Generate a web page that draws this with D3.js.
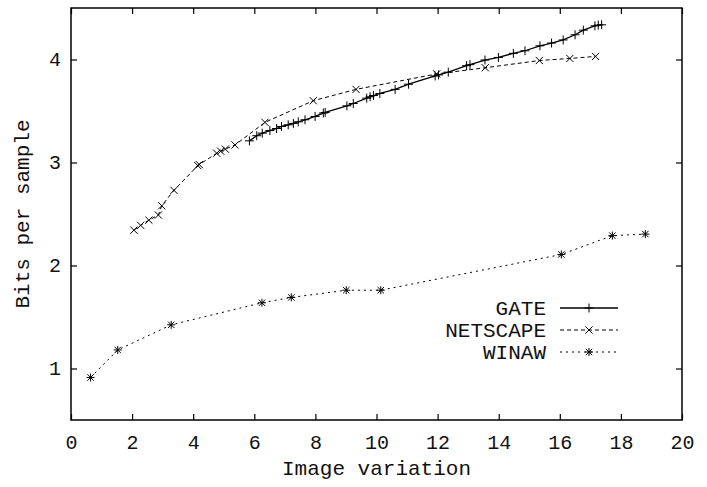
<!DOCTYPE html>
<html>
<head>
<meta charset="utf-8">
<script src="https://cdn.jsdelivr.net/npm/d3@7"></script>
<style>
  body { margin: 0; background: #fff; }
  svg { display: block; }
  text { font-family: "Liberation Mono", "DejaVu Sans Mono", monospace; fill: #111; }
</style>
</head>
<body>
<div id="chart"></div>
<script>
// Data
var gateX = [5.84, 6.08, 6.26, 6.51, 6.73, 6.89, 7.11, 7.28, 7.44, 7.66, 7.99, 8.26, 8.32,
    9.03, 9.24, 9.68, 9.79, 9.90, 10.11, 10.61, 11.05, 11.92, 12.03, 12.35, 12.95, 13.06,
    13.55, 13.99, 14.48, 14.86, 15.35, 15.73, 16.11, 16.50, 16.77, 17.15, 17.26, 17.37];
var gateY = [3.21, 3.26, 3.285, 3.31, 3.33, 3.35, 3.366, 3.38, 3.395, 3.415, 3.447, 3.48, 3.486,
    3.55, 3.573, 3.625, 3.638, 3.65, 3.67, 3.71, 3.76, 3.84, 3.85, 3.877, 3.94, 3.95,
    3.995, 4.02, 4.06, 4.085, 4.133, 4.16, 4.19, 4.24, 4.285, 4.327, 4.334, 4.337];

var netscapeX = [2.06, 2.28, 2.55, 2.86, 2.97, 3.37, 4.15, 4.20, 4.77, 4.90, 5.05, 5.37,
    6.35, 7.93, 9.33, 11.97, 13.56, 15.33, 16.33, 17.17];
var netscapeY = [2.343, 2.39, 2.44, 2.49, 2.58, 2.73, 2.97, 2.98, 3.09, 3.11, 3.13, 3.17,
    3.39, 3.60, 3.71, 3.86, 3.92, 3.99, 4.01, 4.03];

var winawX = [0.64, 1.53, 3.28, 6.25, 7.21, 9.01, 10.14, 16.05, 17.72, 18.80];
var winawY = [0.913, 1.18, 1.424, 1.638, 1.69, 1.76, 1.76, 2.107, 2.29, 2.305];

var xTicks = [0, 2, 4, 6, 8, 10, 12, 14, 16, 18, 20];
var yTicks = [1, 2, 3, 4];

var seriesNames = ["GATE", "NETSCAPE", "WINAW"];

// chart size
var margin = {top: 8, right: 25, bottom: 67, left: 71},
    width = 707 - margin.left - margin.right,
    height = 487 - margin.top - margin.bottom;

var svg = d3.select("#chart")
    .append("svg")
        .attr("width", 707)
        .attr("height", 487)
    .append("g")
        .attr("transform", "translate(" + margin.left + "," + margin.top + ")");

var xScale = d3.scaleLinear().domain([0, 20]).range([0, width]);
var yScale = d3.scaleLinear().domain([0.5, 4.5]).range([height, 0]);

// ticks pointing inward on all four sides
var tickLen = 6;
svg.append("g")
    .attr("transform", "translate(0," + height + ")")
    .call(d3.axisBottom(xScale).tickValues(xTicks).tickSize(-tickLen).tickPadding(15).tickFormat(d3.format("d")))
    .call(g => g.select(".domain").remove());
svg.append("g")
    .call(d3.axisTop(xScale).tickValues(xTicks).tickSize(-tickLen).tickFormat(""))
    .call(g => g.select(".domain").remove());
svg.append("g")
    .call(d3.axisLeft(yScale).tickValues(yTicks).tickSize(-tickLen).tickPadding(10).tickFormat(d3.format("d")))
    .call(g => g.select(".domain").remove());
svg.append("g")
    .attr("transform", "translate(" + width + ",0)")
    .call(d3.axisRight(yScale).tickValues(yTicks).tickSize(-tickLen).tickFormat(""))
    .call(g => g.select(".domain").remove());

svg.selectAll(".tick line").attr("stroke", "#000").attr("stroke-width", 1.2);
svg.selectAll(".tick text").attr("font-size", "20px").attr("font-family", "Liberation Mono").attr("fill", "#111");

// frame
svg.append("rect")
    .attr("width", width)
    .attr("height", height)
    .attr("fill", "none")
    .attr("stroke", "#000")
    .attr("stroke-width", 1.5);

// markers
function plusPath(s) { return "M" + (-s) + ",0H" + s + "M0," + (-s) + "V" + s; }
function crossPath(s) { return "M" + (-s) + "," + (-s) + "L" + s + "," + s + "M" + (-s) + "," + s + "L" + s + "," + (-s); }
var markers = {
    GATE: plusPath(4.5),
    NETSCAPE: crossPath(3.6),
    WINAW: plusPath(4) + crossPath(3.2)
};
var dashes = { GATE: null, NETSCAPE: "4,3", WINAW: "2,4" };
var widths = { GATE: 1.3, NETSCAPE: 1, WINAW: 1 };

var series = [
    {name: "GATE", x: gateX, y: gateY},
    {name: "NETSCAPE", x: netscapeX, y: netscapeY},
    {name: "WINAW", x: winawX, y: winawY}
];

var line = d3.line()
    .x(d => xScale(d[0]))
    .y(d => yScale(d[1]));

series.forEach(function(s) {
    var pts = s.x.map((v, i) => [v, s.y[i]]);
    svg.append("path")
        .datum(pts)
        .attr("d", line)
        .attr("fill", "none")
        .attr("stroke", "#000")
        .attr("stroke-width", widths[s.name])
        .attr("stroke-dasharray", dashes[s.name]);
    svg.append("g")
        .selectAll("path")
        .data(pts)
        .enter()
        .append("path")
            .attr("transform", d => "translate(" + xScale(d[0]) + "," + yScale(d[1]) + ")")
            .attr("d", markers[s.name])
            .attr("stroke", "#000")
            .attr("stroke-width", 1)
            .attr("fill", "none");
});

// legend
var legend = svg.append("g")
    .attr("transform", "translate(" + (546 - margin.left) + "," + (308 - margin.top) + ")");
seriesNames.forEach(function(name, i) {
    var row = legend.append("g").attr("transform", "translate(0," + (i * 22) + ")");
    row.append("text")
        .attr("x", 0)
        .attr("y", 0)
        .attr("dy", "0.35em")
        .attr("text-anchor", "end")
        .attr("font-size", "21px")
        .text(name);
    row.append("line")
        .attr("x1", 14).attr("x2", 72)
        .attr("y1", 0).attr("y2", 0)
        .attr("stroke", "#000")
        .attr("stroke-width", widths[name])
        .attr("stroke-dasharray", dashes[name]);
    row.append("path")
        .attr("transform", "translate(43,0)")
        .attr("d", markers[name])
        .attr("stroke", "#000")
        .attr("fill", "none");
});

// axis labels
svg.append("text")
    .attr("x", width / 2)
    .attr("y", height + 55)
    .attr("text-anchor", "middle")
    .attr("font-size", "21px")
    .text("Image variation");

svg.append("text")
    .attr("transform", "rotate(-90)")
    .attr("x", -(214 - margin.top))
    .attr("y", 22 - margin.left)
    .attr("dy", "0.35em")
    .attr("text-anchor", "middle")
    .attr("font-size", "21px")
    .text("Bits per sample");
</script>
</body>
</html>
